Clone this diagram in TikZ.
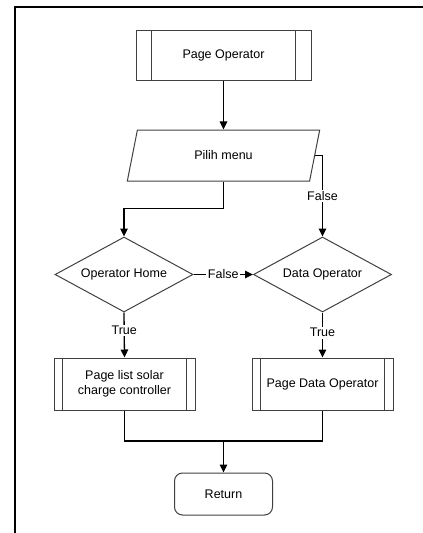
\documentclass[tikz,border=0pt]{standalone}
\usepackage{fontspec}
\setmainfont{Liberation Sans}
\usetikzlibrary{shapes.geometric,arrows.meta}
\begin{document}
\begin{tikzpicture}[x=1pt,y=-1pt,
  font=\fontsize{12.5}{15}\selectfont,
  outline/.style={draw=black!75, line width=1pt},
  proc/.style={outline, rectangle, inner sep=0pt, align=center},
  dec/.style={outline, diamond, inner sep=0pt, minimum width=138pt, minimum height=75pt, aspect=1.84},
  io/.style={outline, trapezium, trapezium left angle=69.6, trapezium right angle=110.4, trapezium stretches=true, minimum width=193pt, minimum height=51pt, inner sep=0pt},
  term/.style={outline, rectangle, rounded corners=8pt, minimum width=98pt, minimum height=42pt},
  conn/.style={draw=black, line width=1.3pt},
  arr/.style={conn, -{Triangle[length=8pt,width=7.5pt]}},
  lbl/.style={fill=white, inner sep=1.5pt}
]
\useasboundingbox (0,0) rectangle (423,533);
% frame
\draw[line width=2pt] (15,533) -- (15,7) -- (423,7);

% nodes
\node[proc, minimum width=175pt, minimum height=50pt] (po) at (223.5,55) {Page Operator};
\draw[outline] ([xshift=16pt]po.north west) -- ([xshift=16pt]po.south west);
\draw[outline] ([xshift=-16pt]po.north east) -- ([xshift=-16pt]po.south east);

\node[io] (pm) at (223.5,155.5) {Pilih menu};

\node[dec] (oh) at (124,274.5) {Operator Home};
\node[dec] (dd) at (322.5,274.5) {Data Operator};

\node[proc, minimum width=141pt, minimum height=52pt] (lb) at (124.5,384) {Page list solar\\charge controller};
\draw[outline] ([xshift=9pt]lb.north west) -- ([xshift=9pt]lb.south west);
\draw[outline] ([xshift=-9pt]lb.north east) -- ([xshift=-9pt]lb.south east);

\node[proc, minimum width=141pt, minimum height=52pt] (rb) at (322.5,384) {Page Data Operator};
\draw[outline] ([xshift=9pt]rb.north west) -- ([xshift=9pt]rb.south west);
\draw[outline] ([xshift=-9pt]rb.north east) -- ([xshift=-9pt]rb.south east);

\node[term] (ret) at (223.5,494) {Return};

\coordinate (m) at (223.5,441);

% connectors
\draw[arr] (po.south) -- (pm.north -| po.south);
\draw[arr] (pm.east) -| node[lbl, pos=0.75] {False} (dd.north);
\draw[arr] (pm.south -| po.south) -- ++(0,27) -| (oh.north);
\draw[arr] (oh.east) -- node[lbl] {False} (dd.west);
\draw[arr] (oh.south) -- node[lbl, pos=0.4] {True} (lb.north);
\draw[arr] (dd.south) -- node[lbl, pos=0.45] {True} (rb.north);
\draw[conn] (lb.south) |- (m) -| (rb.south);
\draw[arr] (m) -- (ret.north);
\end{tikzpicture}
\end{document}
